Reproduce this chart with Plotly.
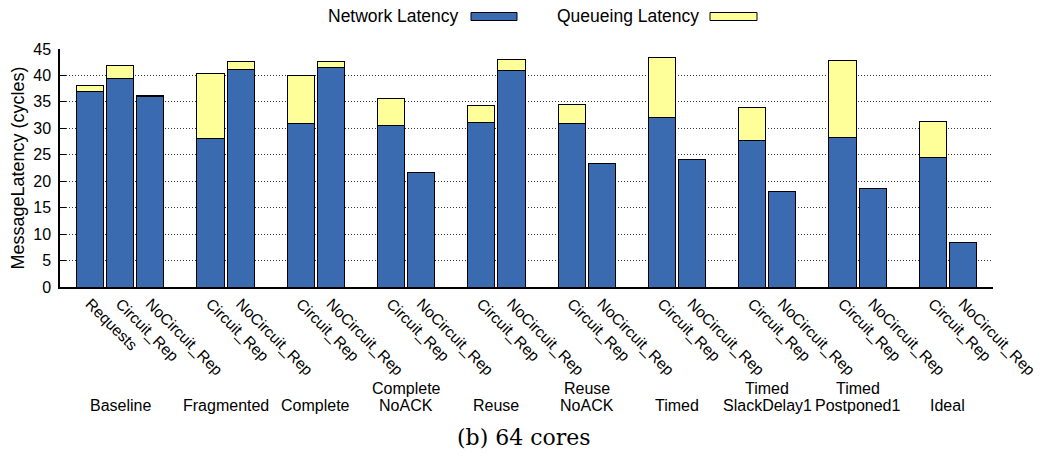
import plotly.graph_objects as go

# Configurations (groups), each split into a top and bottom label line
group_lines = [
    ("", "Baseline"), ("", "Fragmented"), ("", "Complete"), ("Complete", "NoACK"),
    ("", "Reuse"), ("Reuse", "NoACK"), ("", "Timed"), ("Timed", "SlackDelay1"),
    ("Timed", "Postponed1"), ("", "Ideal"),
]
group_bars = [
    ["Requests", "Circuit_Rep", "NoCircuit_Rep"],
    ["Circuit_Rep", "NoCircuit_Rep"],
    ["Circuit_Rep", "NoCircuit_Rep"],
    ["Circuit_Rep", "NoCircuit_Rep"],
    ["Circuit_Rep", "NoCircuit_Rep"],
    ["Circuit_Rep", "NoCircuit_Rep"],
    ["Circuit_Rep", "NoCircuit_Rep"],
    ["Circuit_Rep", "NoCircuit_Rep"],
    ["Circuit_Rep", "NoCircuit_Rep"],
    ["Circuit_Rep", "NoCircuit_Rep"],
]

# Latency components (cycles), one value per bar in the order above
network_latency = [36.9, 39.5, 36.1,
                   28.1, 41.2,
                   30.9, 41.5,
                   30.6, 21.7,
                   31.1, 41.0,
                   30.9, 23.3,
                   32.0, 24.2,
                   27.7, 18.1,
                   28.2, 18.6,
                   24.5, 8.5]
queueing_latency = [1.2, 2.4, 0.1,
                    12.3, 1.4,
                    9.1, 1.1,
                    5.1, 0.0,
                    3.2, 2.0,
                    3.6, 0.1,
                    11.4, 0.0,
                    6.2, 0.0,
                    14.7, 0.0,
                    6.8, 0.0]

y_ticks = [0, 5, 10, 15, 20, 25, 30, 35, 40, 45]

BLUE = "#3a6bb0"
YELLOW = "#ffff99"
FONT = "Liberation Sans, Arial, sans-serif"

# Histogram layout: consecutive slots per group, one empty slot between groups
positions, labels, group_centers = [], [], []
slot = 0
for bars in group_bars:
    start = slot
    for name in bars:
        positions.append(slot)
        labels.append(name)
        slot += 1
    group_centers.append((start + slot - 1) / 2)
    slot += 1

fig = go.Figure()
fig.add_trace(go.Bar(x=positions, y=network_latency, width=0.9, name="Network Latency",
                     marker=dict(color=BLUE, line=dict(color="black", width=1))))
fig.add_trace(go.Bar(x=positions, y=queueing_latency, width=0.9, name="Queueing Latency",
                     marker=dict(color=YELLOW, line=dict(color="black", width=1))))

# Plot area geometry in pixels, used to place legend and labels in paper units
W, H = 1043, 460
L, R, T, B = 60, 50, 49, 173
pw, ph = W - L - R, H - T - B


def px_x(x):
    return (x - L) / pw


def px_y(y):
    return (H - B - y) / ph


annotations = []
shapes = []

# Legend in key-after-text style
legend_items = [("Network Latency", BLUE, 461, 471, 517),
                ("Queueing Latency", YELLOW, 701, 710, 757)]
for text, color, text_right, x0, x1 in legend_items:
    annotations.append(dict(text=text, xref="paper", yref="paper",
                            x=px_x(text_right), y=px_y(16), xanchor="right", yanchor="middle",
                            showarrow=False, font=dict(family=FONT, size=17.5, color="black")))
    shapes.append(dict(type="rect", xref="paper", yref="paper",
                       x0=px_x(x0), x1=px_x(x1), y0=px_y(20.5), y1=px_y(12.5),
                       fillcolor=color, line=dict(color="black", width=1)))

# Group names beneath the rotated bar labels
for (top, bottom), cx in zip(group_lines, group_centers):
    for text, ypx in ((top, 388), (bottom, 405)):
        if text:
            annotations.append(dict(text=text, xref="x", yref="paper", x=cx, y=px_y(ypx),
                                    xanchor="center", yanchor="middle", showarrow=False,
                                    font=dict(family=FONT, size=16, color="black")))

# Caption
annotations.append(dict(text="(b) 64 cores", xref="paper", yref="paper",
                        x=px_x(524), y=px_y(437), xanchor="center", yanchor="middle",
                        showarrow=False,
                        font=dict(family="DejaVu Serif, Liberation Serif, serif", size=22,
                                  color="black")))

fig.update_layout(
    width=W, height=H,
    margin=dict(l=L, r=R, t=T, b=B, autoexpand=False),
    barmode="stack",
    showlegend=False,
    plot_bgcolor="white",
    paper_bgcolor="white",
    font=dict(family=FONT, color="black"),
    annotations=annotations,
    shapes=shapes,
)

fig.update_xaxes(
    range=[-1, slot - 1],
    tickmode="array", tickvals=positions, ticktext=labels,
    tickangle=45, tickfont=dict(family=FONT, size=15.5, color="black"),
    ticks="", showgrid=False, zeroline=False,
    showline=True, linecolor="black", linewidth=1.5,
)

fig.update_yaxes(
    range=[0, 45],
    tickmode="array", tickvals=y_ticks,
    tickfont=dict(family=FONT, size=16, color="black"),
    ticks="inside", ticklen=6, tickcolor="black",
    showgrid=True, gridcolor="#333333", gridwidth=1, griddash="1px,2px",
    zeroline=False,
    showline=True, linecolor="black", linewidth=1.5,
    ticklabelstandoff=4,
    title=dict(text="MessageLatency (cycles)", standoff=4,
               font=dict(family=FONT, size=18, color="black")),
)

fig.write_html("out.html")
